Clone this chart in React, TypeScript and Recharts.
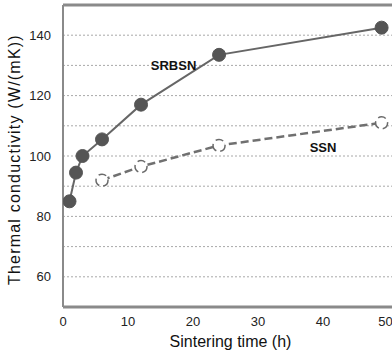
import React from 'react';
import {
  LineChart,
  Line,
  XAxis,
  YAxis,
  CartesianGrid,
  ReferenceLine,
  ReferenceDot,
} from 'recharts';

// Sintering time (h) and thermal conductivity (W/(mK))
const srbsnTime = [1, 2, 3, 6, 12, 24, 49];
const srbsnValues = [85, 94.5, 100, 105.5, 117, 133.5, 142.5];
const ssnTime = [6, 12, 24, 49];
const ssnValues = [92, 96.5, 103.5, 111];

const xTicks = [0, 10, 20, 30, 40, 50];
const yTicks = [60, 80, 100, 120, 140];
const gridValues = [60, 70, 80, 90, 100, 110, 120, 130, 140];

const srbsnData = srbsnTime.map((t, i) => ({ t, v: srbsnValues[i] }));
const ssnData = ssnTime.map((t, i) => ({ t, v: ssnValues[i] }));

const font = '"Liberation Sans", Arial, sans-serif';
const axisColor = '#8a8a8a';

export default function App() {
  return (
    <div style={{ position: 'absolute', left: 0, top: 0, width: 392, height: 353, background: '#fff' }}>
      <LineChart width={392} height={353} margin={{ top: 5, right: 0, bottom: 0, left: 0 }}>
        <CartesianGrid
          vertical={false}
          horizontalValues={gridValues}
          stroke="#a8a8a8"
          strokeDasharray="2 2"
        />
        <XAxis
          type="number"
          dataKey="t"
          domain={[0, 50.6]}
          ticks={xTicks}
          allowDataOverflow
          height={46}
          tickLine={false}
          tickSize={0}
          tickMargin={10}
          axisLine={{ stroke: axisColor, strokeWidth: 3 }}
          tick={{ fill: '#222', fontSize: 13, fontFamily: font }}
          label={{
            value: 'Sintering time (h)',
            position: 'insideBottom',
            offset: 6,
            dx: 3,
            style: { fill: '#111', fontSize: 16, fontFamily: font },
          }}
        />
        <YAxis
          type="number"
          domain={[50, 150]}
          ticks={yTicks}
          width={63}
          tickLine={false}
          tickSize={0}
          tickMargin={12}
          axisLine={{ stroke: axisColor, strokeWidth: 2 }}
          tick={{ fill: '#222', fontSize: 13, fontFamily: font }}
          label={{
            value: 'Thermal conductivity (W/(mK))',
            angle: -90,
            position: 'insideLeft',
            offset: 14,
            dy: 129,
            style: { fill: '#111', fontSize: 16, letterSpacing: 1.2, fontFamily: font },
          }}
        />
        <ReferenceLine y={150} stroke={axisColor} strokeWidth={3} />
        <Line
          data={srbsnData}
          dataKey="v"
          stroke="#666"
          strokeWidth={2}
          dot={{ r: 6.5, fill: '#555', stroke: '#555', strokeWidth: 1 }}
          isAnimationActive={false}
        />
        <Line
          data={ssnData}
          dataKey="v"
          stroke="#707070"
          strokeWidth={2.5}
          strokeDasharray="8 4"
          dot={{ r: 6, fill: '#fff', stroke: '#6a6a6a', strokeWidth: 1.5 }}
          isAnimationActive={false}
        />
        <ReferenceDot
          x={17}
          y={130}
          r={0}
          label={{ value: 'SRBSN', position: 'center', style: { fill: '#111', fontSize: 13, fontWeight: 'bold', fontFamily: font } }}
        />
        <ReferenceDot
          x={40}
          y={103}
          r={0}
          label={{ value: 'SSN', position: 'center', style: { fill: '#111', fontSize: 13, fontWeight: 'bold', fontFamily: font } }}
        />
      </LineChart>
    </div>
  );
}
